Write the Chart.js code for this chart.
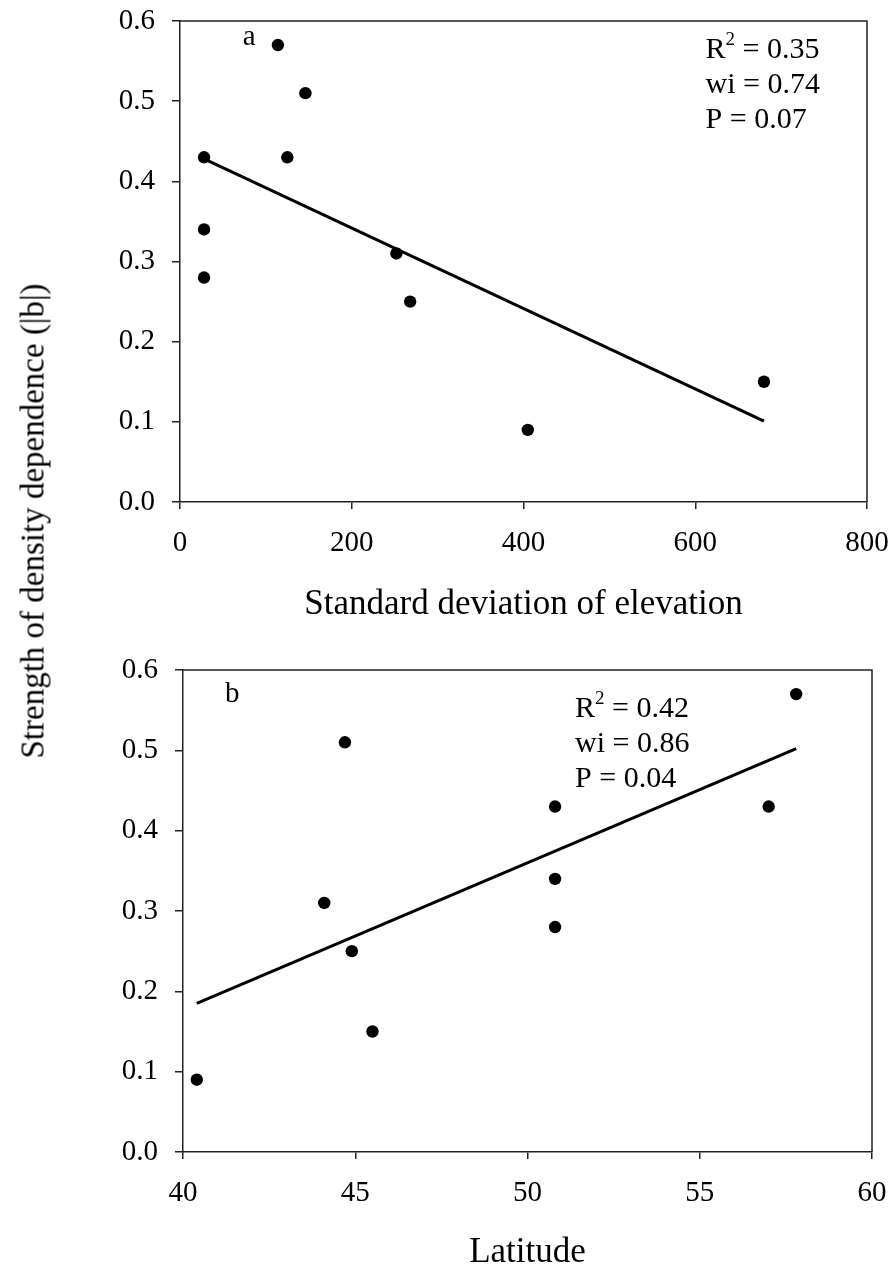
<!DOCTYPE html>
<html>
<head>
<meta charset="utf-8">
<script src="https://cdn.jsdelivr.net/npm/chart.js@4.4.1/dist/chart.umd.min.js"></script>
<style>
  html, body { margin: 0; padding: 0; background: #fff; }
  #page { position: relative; width: 896px; height: 1270px; overflow: hidden; background: #fff; }
  canvas { position: absolute; left: 0; }
  #panelA { top: 0; }
  #panelB { top: 630px; }
  #yTitle {
    position: absolute; left: 33px; top: 521px;
    transform: translate(-50%, -50%) rotate(-90deg);
    white-space: nowrap; color: #000;
    font: 33px "Liberation Serif", "Times New Roman", serif;
  }
</style>
</head>
<body>
<div id="page">
  <canvas id="panelA" width="896" height="640"></canvas>
  <canvas id="panelB" width="896" height="640"></canvas>
  <div id="yTitle">Strength of density dependence (|b|)</div>
</div>
<script>
// --- Data ---
// panel a: strength vs SD of elevation
const elevSd    = [28, 28, 28, 114, 146, 125, 252, 268, 405, 680];
const strengthA = [0.43, 0.34, 0.28, 0.57, 0.51, 0.43, 0.31, 0.25, 0.09, 0.15];
const fitAx = [28, 680];
const fitAy = [0.428, 0.101];
const statsA = ["0.35", "0.74", "0.07"];

// panel b: strength vs latitude
const latitude  = [40.4, 44.1, 44.7, 44.9, 45.5, 50.8, 50.8, 50.8, 57.0, 57.8];
const strengthB = [0.09, 0.31, 0.51, 0.25, 0.15, 0.43, 0.34, 0.28, 0.43, 0.57];
const fitBx = [40.4, 57.8];
const fitBy = [0.185, 0.502];
const statsB = ["0.42", "0.86", "0.04"];

const yTicks = [0, 0.1, 0.2, 0.3, 0.4, 0.5, 0.6];

const SERIF = '"Liberation Serif", "Times New Roman", serif';
const AXIS = "#222";

// --- frame: top + right edges of the box ---
const framePlugin = {
  id: "frame",
  afterDraw(chart) {
    const { ctx, chartArea: a } = chart;
    ctx.save();
    ctx.strokeStyle = AXIS;
    ctx.lineWidth = 1.5;
    ctx.beginPath();
    ctx.moveTo(a.left, a.top);
    ctx.lineTo(a.right, a.top);
    ctx.lineTo(a.right, a.bottom);
    ctx.stroke();
    ctx.restore();
  }
};

// --- panel letter + R2 / wi / P block ---
const statsPlugin = {
  id: "stats",
  afterDatasetsDraw(chart, args, opts) {
    const { ctx, scales } = chart;
    ctx.save();
    ctx.fillStyle = "#000";
    ctx.textBaseline = "alphabetic";
    ctx.textAlign = "left";

    ctx.font = `29px ${SERIF}`;
    ctx.fillText(opts.letter, scales.x.getPixelForValue(opts.letterAt[0]), scales.y.getPixelForValue(opts.letterAt[1]));

    const x0 = scales.x.getPixelForValue(opts.at[0]);
    let y0 = scales.y.getPixelForValue(opts.at[1]);
    ctx.font = `30px ${SERIF}`;
    // R^2 line
    ctx.fillText("R", x0, y0);
    let w = ctx.measureText("R").width;
    ctx.font = `19px ${SERIF}`;
    ctx.fillText("2", x0 + w, y0 - 13);
    w += ctx.measureText("2").width;
    ctx.font = `30px ${SERIF}`;
    ctx.fillText(" = " + opts.values[0], x0 + w, y0);
    y0 += 35;
    ctx.fillText("wi = " + opts.values[1], x0, y0);
    y0 += 35;
    ctx.fillText("P = " + opts.values[2], x0, y0);
    ctx.restore();
  }
};

function makePanel(id, cfg) {
  const pts = cfg.xs.map((x, i) => ({ x, y: cfg.ys[i] }));
  const fit = cfg.fx.map((x, i) => ({ x, y: cfg.fy[i] }));
  return new Chart(document.getElementById(id), {
    type: "scatter",
    data: {
      datasets: [
        {
          data: fit,
          showLine: true,
          borderColor: "#000",
          borderWidth: 3,
          pointRadius: 0,
          fill: false
        },
        {
          data: pts,
          pointRadius: 6.2,
          pointHoverRadius: 6.2,
          backgroundColor: "#000",
          borderWidth: 0
        }
      ]
    },
    options: {
      responsive: false,
      animation: false,
      events: [],
      layout: { padding: { left: 0, right: cfg.padRight, top: cfg.padTop, bottom: cfg.padBottom } },
      plugins: {
        legend: { display: false },
        tooltip: { enabled: false },
        stats: { letter: cfg.letter, letterAt: cfg.letterAt, at: cfg.statsAt, values: cfg.stats }
      },
      scales: {
        x: {
          type: "linear",
          min: cfg.xMin,
          max: cfg.xMax,
          afterFit: s => { s.height = cfg.xHeight; s.paddingLeft = 0; s.paddingRight = 0; },
          ticks: {
            stepSize: cfg.xStep,
            color: "#000",
            padding: 17,
            maxRotation: 0,
            font: { size: 29, family: SERIF },
            callback: v => String(v)
          },
          grid: { drawOnChartArea: false, drawTicks: true, tickLength: 7, color: AXIS, lineWidth: 1.5 },
          border: { display: true, color: AXIS, width: 1.5 },
          title: {
            display: true,
            text: cfg.xTitle,
            color: "#000",
            padding: 0,
            font: { size: 35, family: SERIF, lineHeight: 1 }
          }
        },
        y: {
          type: "linear",
          min: 0,
          max: 0.6,
          afterFit: s => { s.width = cfg.yWidth; s.paddingTop = 0; s.paddingBottom = 0; },
          afterBuildTicks: s => { s.ticks = yTicks.map(v => ({ value: v })); },
          ticks: {
            color: "#000",
            padding: 17,
            font: { size: 29, family: SERIF },
            callback: v => Number(v).toFixed(1)
          },
          grid: { drawOnChartArea: false, drawTicks: true, tickLength: 8, color: AXIS, lineWidth: 1.5 },
          border: { display: true, color: AXIS, width: 1.5 }
        }
      }
    },
    plugins: [framePlugin, statsPlugin]
  });
}

makePanel("panelA", {
  xs: elevSd, ys: strengthA, fx: fitAx, fy: fitAy,
  xMin: 0, xMax: 800, xStep: 200,
  xTitle: "Standard deviation of elevation",
  letter: "a", letterAt: [73, 0.570],
  statsAt: [612, 0.554], stats: statsA,
  padTop: 21, padRight: 29, padBottom: 17.5, xHeight: 120.5, yWidth: 180
});

makePanel("panelB", {
  xs: latitude, ys: strengthB, fx: fitBx, fy: fitBy,
  xMin: 40, xMax: 60, xStep: 5,
  xTitle: "Latitude",
  letter: "b", letterAt: [41.22, 0.560],
  statsAt: [51.38, 0.5415], stats: statsB,
  padTop: 40, padRight: 24, padBottom: 0, xHeight: 118, yWidth: 183
});
</script>
</body>
</html>
